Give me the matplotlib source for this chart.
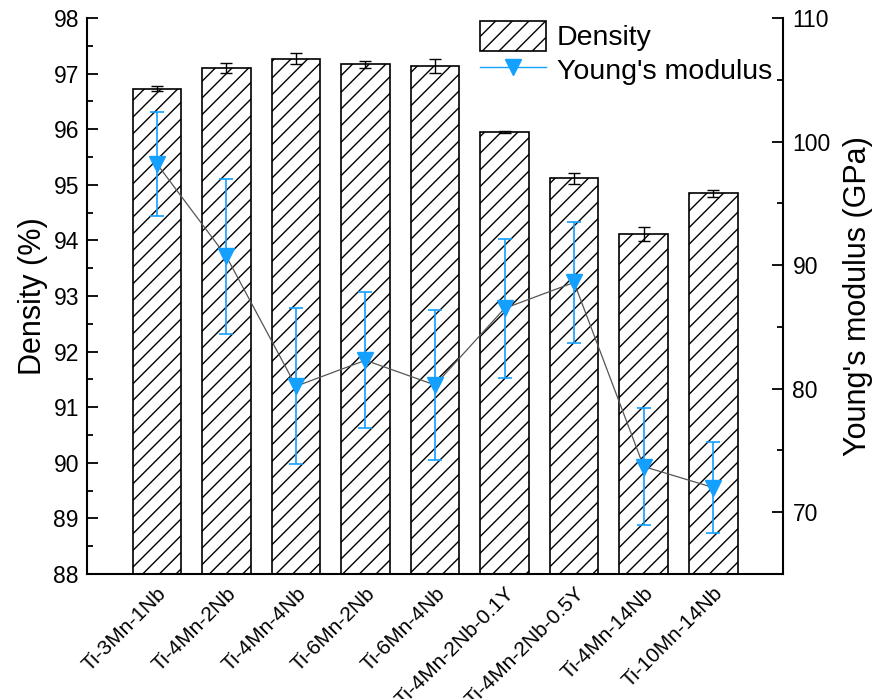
import numpy as np
import matplotlib.pyplot as plt
from matplotlib.patches import Patch
from matplotlib.lines import Line2D
from matplotlib.ticker import MultipleLocator

plt.rcParams['font.family'] = ['Liberation Sans', 'DejaVu Sans']
plt.rcParams['hatch.linewidth'] = 1.0

alloys = ['Ti-3Mn-1Nb', 'Ti-4Mn-2Nb', 'Ti-4Mn-4Nb', 'Ti-6Mn-2Nb', 'Ti-6Mn-4Nb',
          'Ti-4Mn-2Nb-0.1Y', 'Ti-4Mn-2Nb-0.5Y', 'Ti-4Mn-14Nb', 'Ti-10Mn-14Nb']
density     = [96.73, 97.10, 97.27, 97.17, 97.14, 95.95, 95.12, 94.11, 94.85]
density_err = [0.04, 0.09, 0.105, 0.065, 0.12, 0.01, 0.10, 0.125, 0.06]
modulus     = [98.2, 90.7, 80.2, 82.3, 80.3, 86.5, 88.6, 73.7, 72.0]
modulus_err = [4.2, 6.3, 6.3, 5.5, 6.1, 5.6, 4.9, 4.7, 3.7]

BLUE = '#14A0FF'

x = np.arange(1, len(alloys) + 1)

fig = plt.figure(figsize=(8.73, 6.99), dpi=100)
ax = fig.add_axes([0.1, 0.1788, 0.7966, 0.7954])

ax.bar(x, density, width=0.7, yerr=density_err, color='white', edgecolor='black',
       hatch='//', linewidth=1.2,
       error_kw=dict(ecolor='black', elinewidth=1.0, capsize=4.5, capthick=1.0))
ax.set_xlim(0, 10)
ax.set_ylim(88, 98)
ax.set_xticks(x)
ax.set_xticklabels(alloys, rotation=45, ha='right', va='top', rotation_mode='anchor')
ax.yaxis.set_major_locator(MultipleLocator(1))
ax.yaxis.set_minor_locator(MultipleLocator(0.5))
ax.tick_params(axis='x', length=0, labelsize=15, pad=7)
ax.tick_params(axis='y', which='major', direction='in', length=8, width=1.3, labelsize=16.5, pad=6)
ax.tick_params(axis='y', which='minor', direction='in', length=4, width=1.3)
ax.set_ylabel('Density (%)', fontsize=22, labelpad=4)
ax.spines['top'].set_visible(False)
ax.spines['right'].set_visible(False)
for s in ['left', 'bottom']:
    ax.spines[s].set_linewidth(1.5)

ax2 = ax.twinx()
ax2.errorbar(x, modulus, yerr=modulus_err, fmt='none', ecolor=BLUE,
             elinewidth=1.2, capsize=5, capthick=1.2, zorder=3)
ax2.plot(x, modulus, color='#555555', linewidth=0.9, zorder=2)
ax2.plot(x, modulus, linestyle='none', marker='v', markersize=11, color=BLUE, zorder=4)
ax2.set_ylim(65, 110)
ax2.set_yticks([70, 80, 90, 100, 110])
ax2.yaxis.set_minor_locator(MultipleLocator(5))
ax2.tick_params(axis='y', which='major', direction='in', length=8, width=1.3, labelsize=16.5, pad=7)
ax2.tick_params(axis='y', which='minor', direction='in', length=4, width=1.3)
ax2.set_ylabel("Young's modulus (GPa)", fontsize=22, labelpad=9)
for s in ['top', 'left', 'bottom']:
    ax2.spines[s].set_visible(False)
ax2.spines['right'].set_linewidth(1.5)

handles = [Patch(facecolor='white', edgecolor='black', hatch='//', linewidth=1.2),
           Line2D([], [], color=BLUE, marker='v', markersize=11, linewidth=1.0)]
ax2.legend(handles, ['Density', "Young's modulus"], loc='upper left',
           bbox_to_anchor=(0.565, 0.995), frameon=False, fontsize=20.5,
           handlelength=2.3, handleheight=1.25, handletextpad=0.4,
           labelspacing=0.1, borderpad=0, borderaxespad=0)

fig.savefig('out.png', dpi=100)
